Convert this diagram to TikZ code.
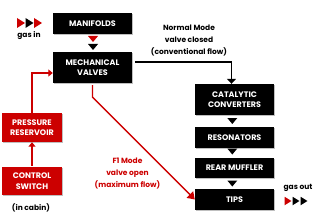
\documentclass[tikz,border=0pt]{standalone}
\usepackage{fontspec}
\setmainfont{Poppins}
\usepackage{xcolor}
\usepackage{tikz}
\usetikzlibrary{arrows.meta,shadows}

\definecolor{f1red}{HTML}{CC0000}

\tikzset{
  dtri/.pic={\fill (-5,3) -- (5,3) -- (0,-3) -- cycle;},
  rtri/.pic={\fill (-4,5) -- (4,0) -- (-4,-5) -- cycle;}
}

\begin{document}
\begin{tikzpicture}[x=1pt, y=1pt,
      box/.style={rectangle, fill=black, text=white, minimum width=79pt, inner sep=0pt, align=center,
        font=\bfseries\fontsize{8}{10.5}\selectfont,
        drop shadow={shadow xshift=1pt, shadow yshift=-1pt, fill=black!25, opacity=1}},
      redbox/.style={box, fill=f1red, minimum width=60pt},
      lbl/.style={align=center, font=\bfseries\fontsize{7.5}{12}\selectfont},
      flow/.style={-{Triangle[width=9pt,length=5pt]}, line width=1.6pt},
      redflow/.style={flow, draw=f1red, line width=1.4pt, -{Triangle[width=7pt,length=4.5pt]}}
    ]
      \useasboundingbox (0,0) rectangle (316,212);

      \node[box, minimum height=21pt] (manif)   at (92.5,188.5) {MANIFOLDS};
      \node[box, minimum height=31pt] (mech)    at (92.5,144.5) {MECHANICAL\\VALVES};
      \node[box, minimum height=31pt] (cat)     at (234.5,112.5) {CATALYTIC\\CONVERTERS};
      \node[box, minimum height=21pt] (reson)   at (234.5,74.5) {RESONATORS};
      \node[box, minimum height=20pt] (muffler) at (234.5,44)   {REAR MUFFLER};
      \node[box, minimum height=21pt] (tips)    at (234.5,12.5) {TIPS};
      \node[redbox, minimum height=29pt] (press)   at (32,84.5) {PRESSURE\\RESERVOIR};
      \node[redbox, minimum height=28pt] (control) at (32,31)   {CONTROL\\SWITCH};

      \node[lbl] (gasin)  at (29,176.5) {gas in};
      \node[lbl] (gasout) at (298,24.5) {gas out};
      \node[lbl] (cabin)  at (31,4.5) {(in cabin)};
      \node[lbl] (normal) at (189,171.5) {Normal Mode\\valve closed\\(conventional flow)};
      \node[lbl, text=f1red] (f1) at (127.5,38) {F1 Mode\\valve open\\(maximum flow)};

      % gas in / gas out
      \pic[color=f1red] at (21,189) {rtri};
      \pic at (29.5,189) {rtri};
      \pic[color=f1red] at (38,189) {rtri};
      \pic[color=f1red, scale=0.85] at (288,11) {rtri};
      \pic[scale=0.85] at (296,11) {rtri};
      \pic[scale=0.85] at (304,11) {rtri};

      % flow between blocks
      \pic[color=f1red] at (93,173) {dtri};
      \pic at (93,165) {dtri};
      \pic at (232.3,91) {dtri};
      \pic at (232.3,60.5) {dtri};
      \pic at (232.3,28.5) {dtri};

      \draw[flow, shorten <=3pt] ([yshift=5.5pt]mech.east) -| ([xshift=-3pt]cat.north);
      \draw[redflow, -{Triangle[width=9pt,length=7pt]}, shorten <=2pt] (mech.south) -- ++(0,-14) -- (tips.west);
      \draw[redflow, shorten <=1pt] (control.north) -- (press.south);
      \draw[redflow] (press.north) |- ([yshift=-5.5pt]mech.west);
    \end{tikzpicture}
\end{document}
